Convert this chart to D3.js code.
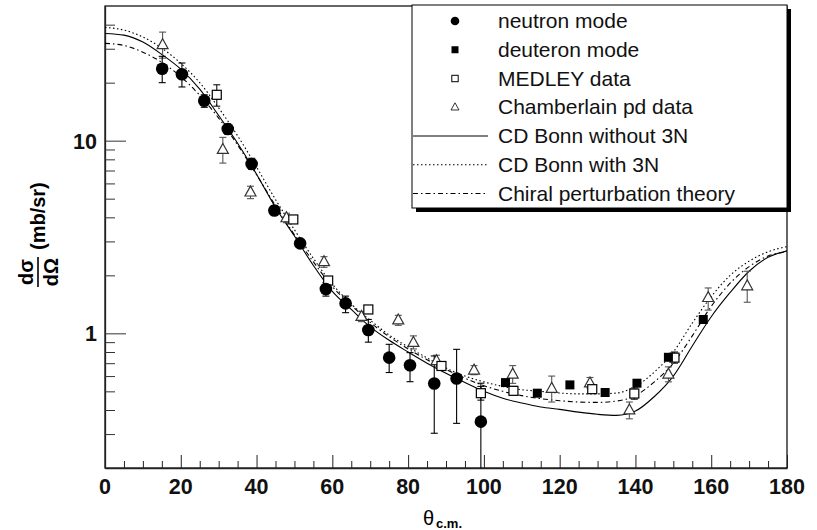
<!DOCTYPE html>
<html><head><meta charset="utf-8">
<script src="https://cdn.jsdelivr.net/npm/d3@7"></script>
<style>
html,body{margin:0;padding:0;background:#fff;}
svg{display:block;font-family:"Liberation Sans",Arial,Helvetica,sans-serif;}
</style></head>
<body>
<svg id="chart" width="817" height="530"></svg>
<script>
// ---- data ----
const curveAngles = [0,5,10,15,20,25,30,35,40,45,50,55,60,65,70,75,80,85,90,95,100,105,110,115,120,125,130,135,140,145,150,155,160,165,170,175,180];
const cdBonnWithout3N = [36,35.3,32.5,28,23.5,18.5,13.5,9.7,6.7,4.5,3.2,2.25,1.65,1.33,1.08,0.92,0.80,0.70,0.62,0.555,0.50,0.46,0.435,0.415,0.403,0.39,0.38,0.375,0.395,0.47,0.60,0.86,1.22,1.63,2.1,2.48,2.68];
const cdBonnWith3N = [38.7,37.5,34.5,30.2,25.2,20,14.8,10.6,7.3,4.95,3.45,2.45,1.8,1.42,1.17,0.98,0.85,0.745,0.66,0.60,0.56,0.53,0.51,0.50,0.49,0.485,0.485,0.49,0.53,0.63,0.80,1.13,1.55,2.0,2.37,2.65,2.82];
const chiralPT = [32,31.2,28.8,25.5,21.5,17.2,13.1,9.5,6.65,4.6,3.25,2.35,1.75,1.4,1.14,0.96,0.83,0.73,0.65,0.585,0.535,0.50,0.475,0.458,0.447,0.44,0.438,0.445,0.475,0.56,0.70,0.97,1.38,1.82,2.22,2.52,2.65];

const neutronAngle = [15.1,20.3,26.2,32.4,38.7,44.7,51.5,58.3,63.5,69.5,75.0,80.5,86.9,92.8,99.2];
const neutronValue = [23.6,22.1,16.1,11.5,7.57,4.34,2.93,1.70,1.43,1.04,0.748,0.683,0.549,0.583,0.348];
const neutronLow   = [20.0,19.0,14.9,10.8,7.1,4.1,2.8,1.56,1.28,0.90,0.626,0.561,0.303,0.341,0.15];
const neutronHigh  = [27.4,25.3,17.3,12.2,8.1,4.6,3.07,1.83,1.56,1.18,0.877,0.794,0.763,0.826,0.551];

const deuteronAngle = [105.7,114.1,122.7,132.0,140.4,148.7,157.9];
const deuteronValue = [0.555,0.489,0.540,0.493,0.551,0.751,1.18];

const medleyAngle = [29.5,49.7,58.9,69.5,88.8,99.2,107.8,128.6,139.7,150.3];
const medleyValue = [17.3,3.90,1.88,1.33,0.677,0.489,0.503,0.513,0.487,0.748];
const medleyLow   = [15.1,3.75,1.80,1.27,0.65,0.45,0.48,0.49,0.455,0.70];
const medleyHigh  = [19.5,4.05,1.96,1.39,0.705,0.53,0.53,0.54,0.52,0.80];

const chamberAngle = [15.2,31.1,38.4,47.9,57.8,67.7,77.4,81.4,87.5,97.4,107.6,117.9,128.0,138.4,148.7,159.2,169.5];
const chamberValue = [31.4,8.98,5.40,3.97,2.35,1.22,1.17,0.895,0.719,0.643,0.613,0.517,0.551,0.399,0.613,1.53,1.76];
const chamberLow   = [26.8,7.65,5.0,3.75,2.2,1.15,1.1,0.83,0.67,0.61,0.55,0.44,0.52,0.36,0.56,1.32,1.45];
const chamberHigh  = [36.6,10.4,5.8,4.2,2.5,1.3,1.24,0.97,0.77,0.68,0.68,0.60,0.59,0.44,0.67,1.72,2.1];

const xTickValues = [0,20,40,60,80,100,120,140,160,180];
const yTickValues = [1,10];
const legendLabels = ["neutron mode","deuteron mode","MEDLEY data","Chamberlain pd data","CD Bonn without 3N","CD Bonn with 3N","Chiral perturbation theory"];

// ---- layout ----
const svg = d3.select("#chart");
const L = 105, R = 787, T = 6, B = 468;
const x = d3.scaleLinear().domain([0,180]).range([L,R]);
const y = d3.scaleLog().domain([0.2,50]).range([B,T]);

svg.append("defs").append("clipPath").attr("id","clip")
  .append("rect").attr("x",L).attr("y",T).attr("width",R-L).attr("height",B-T);

// frame
svg.append("rect").attr("x",L).attr("y",T).attr("width",R-L).attr("height",B-T)
  .attr("fill","none").attr("stroke","#000").attr("stroke-width",1.2);

// x axis ticks (inside)
const xAxis = d3.axisBottom(x).tickValues(d3.range(0,181,5)).tickSize(0).tickFormat("");
const gx = svg.append("g").attr("transform",`translate(0,${B})`).call(xAxis);
gx.select(".domain").attr("stroke","#222").attr("stroke-width",1.3);
gx.selectAll(".tick line").attr("y2", d => d%20===0 ? -13 : -7).attr("stroke","#222").attr("stroke-width",1);
xTickValues.forEach(v=>{
  svg.append("text").attr("x",x(v)).attr("y",494).attr("text-anchor","middle")
    .attr("font-size",21.5).attr("font-weight","bold").attr("fill","#111").text(v);
});

// y axis ticks (inside)
const yMinor = [0.3,0.4,0.5,0.6,0.7,0.8,0.9,1,2,3,4,5,6,7,8,9,10,20,30,40];
const yAxis = d3.axisLeft(y).tickValues(yMinor).tickSize(0).tickFormat("");
const gy = svg.append("g").attr("transform",`translate(${L},0)`).call(yAxis);
gy.select(".domain").attr("stroke","#222").attr("stroke-width",1.3);
gy.selectAll(".tick line").attr("x2", d => yTickValues.includes(d) ? 21 : 10).attr("stroke","#333").attr("stroke-width",1);
yTickValues.forEach(v=>{
  svg.append("text").attr("x",97).attr("y",y(v)+8).attr("text-anchor","end")
    .attr("font-size",21.5).attr("font-weight","bold").attr("fill","#111").text(v);
});

// y label
const yl = svg.append("g").attr("transform","translate(38,0) rotate(-90)");
yl.append("text").attr("x",-272).attr("y",-5).attr("text-anchor","middle")
  .attr("font-size",20).attr("font-weight","bold").text("dσ");
yl.append("line").attr("x1",-287).attr("x2",-257).attr("y1",0).attr("y2",0).attr("stroke","#000").attr("stroke-width",1.6);
yl.append("text").attr("x",-272).attr("y",20).attr("text-anchor","middle")
  .attr("font-size",20).attr("font-weight","bold").text("dΩ");
yl.append("text").attr("x",-250).attr("y",7).attr("text-anchor","start")
  .attr("font-size",20).attr("font-weight","bold").text("(mb/sr)");

// x label
svg.append("text").attr("x",423).attr("y",525).attr("font-size",20).text("θ");
svg.append("text").attr("x",436).attr("y",528).attr("font-size",13).attr("font-weight","bold").text("c.m.");

// curves
const plot = svg.append("g").attr("clip-path","url(#clip)");
const line = d3.line().x(d=>x(d[0])).y(d=>y(d[1])).curve(d3.curveMonotoneX);
const curves = [
  {vals:cdBonnWithout3N, dash:null},
  {vals:cdBonnWith3N, dash:"1.5,2.5"},
  {vals:chiralPT, dash:"5,3,1.5,3"}
];
curves.forEach(c=>{
  plot.append("path").datum(curveAngles.map((a,i)=>[a,c.vals[i]]))
    .attr("d",line).attr("fill","none").attr("stroke","#000").attr("stroke-width",1.1)
    .attr("stroke-dasharray",c.dash);
});

// error bars
function errBars(angles, lows, highs, color){
  angles.forEach((a,i)=>{
    const g = plot.append("g").attr("stroke",color).attr("stroke-width",1.1);
    const cx = x(a), y1 = y(Math.max(lows[i],0.1)), y2 = y(highs[i]);
    g.append("line").attr("x1",cx).attr("x2",cx).attr("y1",y1).attr("y2",y2);
    g.append("line").attr("x1",cx-3.5).attr("x2",cx+3.5).attr("y1",y2).attr("y2",y2);
    g.append("line").attr("x1",cx-3.5).attr("x2",cx+3.5).attr("y1",y1).attr("y2",y1);
  });
}
errBars(chamberAngle, chamberLow, chamberHigh, "#555");
errBars(medleyAngle, medleyLow, medleyHigh, "#111");
errBars(neutronAngle, neutronLow, neutronHigh, "#000");

// markers
function tri(cx,cy,s){ const h=s*0.9; return `M${cx},${cy-h*0.62}L${cx+s/2},${cy+h*0.38}L${cx-s/2},${cy+h*0.38}Z`; }
chamberAngle.forEach((a,i)=>{
  plot.append("path").attr("d",tri(x(a),y(chamberValue[i]),11)).attr("fill","#fff").attr("stroke","#333").attr("stroke-width",1.2);
});
medleyAngle.forEach((a,i)=>{
  plot.append("rect").attr("x",x(a)-4.5).attr("y",y(medleyValue[i])-4.5).attr("width",9).attr("height",9)
    .attr("fill","#fff").attr("stroke","#000").attr("stroke-width",1.2);
});
deuteronAngle.forEach((a,i)=>{
  plot.append("rect").attr("x",x(a)-4.5).attr("y",y(deuteronValue[i])-4.5).attr("width",9).attr("height",9).attr("fill","#000");
});
neutronAngle.forEach((a,i)=>{
  plot.append("circle").attr("cx",x(a)).attr("cy",y(neutronValue[i])).attr("r",6.3).attr("fill","#000");
});

// legend
const lx = 412, ly = 5, lw = 375, lh = 203;
svg.append("rect").attr("x",lx+4).attr("y",ly+4).attr("width",lw).attr("height",lh).attr("fill","#000");
svg.append("rect").attr("x",lx).attr("y",ly).attr("width",lw).attr("height",lh).attr("fill","#fff").attr("stroke","#000").attr("stroke-width",1);
const rowH = 28.75, row0 = ly + 16;
legendLabels.forEach((lab,i)=>{
  const cy = row0 + i*rowH;
  svg.append("text").attr("x",498).attr("y",cy+7).attr("font-size",21).attr("fill","#111").text(lab);
  const mx = 455;
  if(i===0) svg.append("circle").attr("cx",mx).attr("cy",cy).attr("r",4.3).attr("fill","#000");
  if(i===1) svg.append("rect").attr("x",mx-3.5).attr("y",cy-3.5).attr("width",7).attr("height",7).attr("fill","#000");
  if(i===2) svg.append("rect").attr("x",mx-3.2).attr("y",cy-3.2).attr("width",6.4).attr("height",6.4).attr("fill","#fff").attr("stroke","#000").attr("stroke-width",1);
  if(i===3) svg.append("path").attr("d",tri(mx,cy,8)).attr("fill","#fff").attr("stroke","#333").attr("stroke-width",1);
  if(i>=4){
    const dash = curves[i-4].dash;
    svg.append("line").attr("x1",413).attr("x2",488).attr("y1",cy).attr("y2",cy)
      .attr("stroke","#000").attr("stroke-width",1).attr("stroke-dasharray",dash);
  }
});
</script>
</body></html>
